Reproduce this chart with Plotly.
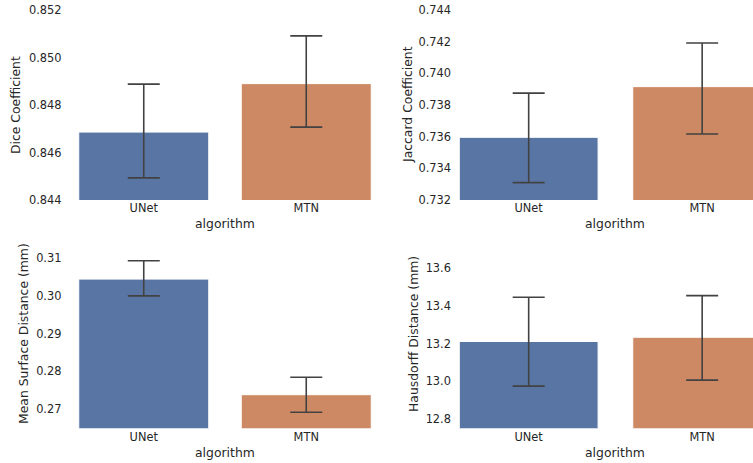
import plotly.graph_objects as go

algorithms = ["UNet", "MTN"]

dice_mean = [0.84686, 0.84890]
dice_low = [0.84493, 0.84707]
dice_high = [0.84888, 0.85091]

jaccard_mean = [0.73596, 0.73916]
jaccard_low = [0.73310, 0.73617]
jaccard_high = [0.73875, 0.74192]

msd_mean = [0.30444, 0.27386]
msd_low = [0.30000, 0.26920]
msd_high = [0.30929, 0.27847]

hd_mean = [13.2106, 13.2330]
hd_low = [12.9750, 13.0070]
hd_high = [13.4440, 13.4530]

colors = ["#5975a4", "#cc8963"]
err_color = "#424242"
text_color = "#262626"
font_family = "DejaVu Sans"
tick_size = 11.4
label_size = 12.4

W, H = 753, 463


def fx(px):
    return px / W


def fy(py):
    return 1 - py / H


panels = [
    (dice_mean, dice_low, dice_high, "Dice Coefficient", [0.844, 0.852],
     [0.844, 0.846, 0.848, 0.850, 0.852], ".3f"),
    (jaccard_mean, jaccard_low, jaccard_high, "Jaccard Coefficient", [0.732, 0.744],
     [0.732, 0.734, 0.736, 0.738, 0.740, 0.742, 0.744], ".3f"),
    (msd_mean, msd_low, msd_high, "Mean Surface Distance (mm)", [0.26497, 0.31531],
     [0.27, 0.28, 0.29, 0.30, 0.31], ".2f"),
    (hd_mean, hd_low, hd_high, "Hausdorff Distance (mm)", [12.7525, 13.757],
     [12.8, 13.0, 13.2, 13.4, 13.6], ".1f"),
]

xdoms = [[fx(62.5), fx(387.5)], [fx(452.0), 1.0], [fx(62.5), fx(387.5)], [fx(452.0), 1.0]]
xranges = [[-0.5, 1.5], [-0.442, 1.293], [-0.5, 1.5], [-0.442, 1.293]]
ydoms = [[fy(200), fy(10)], [fy(200), fy(10)],
         [fy(428.3), fy(238)], [fy(428.3), fy(238)]]
ytitle_x = [15, 407, 23, 413]
ytitle_y = [105, 105, 334, 334]
xtitle_y = [223, 223, 452, 452]

fig = go.Figure()
layout = dict(
    width=W, height=H, margin=dict(l=0, r=0, t=0, b=0, autoexpand=False),
    paper_bgcolor="white", plot_bgcolor="white",
    showlegend=False,
    font=dict(family=font_family, size=12, color=text_color),
)
annotations = []
for i, (mean, low, high, ylabel, yr, tv, tf) in enumerate(panels):
    n = i + 1
    xa = "x" if n == 1 else f"x{n}"
    ya = "y" if n == 1 else f"y{n}"
    fig.add_trace(go.Bar(
        x=algorithms, y=mean, xaxis=xa, yaxis=ya,
        width=0.8,
        marker=dict(color=colors, line=dict(color="white", width=1)),
        error_y=dict(
            type="data", symmetric=False,
            array=[h - m for h, m in zip(high, mean)],
            arrayminus=[m - l for m, l in zip(mean, low)],
            color=err_color, thickness=1.6, width=16,
        ),
    ))
    xk = "xaxis" if n == 1 else f"xaxis{n}"
    yk = "yaxis" if n == 1 else f"yaxis{n}"
    layout[xk] = dict(domain=xdoms[i], range=xranges[i], anchor=ya,
                      automargin=False,
                      showgrid=False, zeroline=False, showline=False, ticks="",
                      tickfont=dict(size=tick_size, color=text_color))
    layout[yk] = dict(domain=ydoms[i], range=yr, anchor=xa,
                      automargin=False, ticklabeloverflow="allow",
                      tickvals=tv, tickformat=tf,
                      showgrid=False, zeroline=False, showline=False, ticks="",
                      tickfont=dict(size=tick_size, color=text_color))
    annotations.append(dict(
        text=ylabel, textangle=-90, showarrow=False,
        xref="paper", yref="paper",
        x=fx(ytitle_x[i]), y=fy(ytitle_y[i]),
        xanchor="center", yanchor="middle",
        font=dict(size=label_size, color=text_color),
    ))
    annotations.append(dict(
        text="algorithm", showarrow=False,
        xref=xa, yref="paper", x=0.5, y=fy(xtitle_y[i]),
        xanchor="center", yanchor="middle",
        font=dict(size=label_size, color=text_color),
    ))

layout["annotations"] = annotations
fig.update_layout(**layout)
# remove the browser's default 8px page margin so the figure fills the window
fig.write_html(
    "out.html",
    config={"displayModeBar": False},
    post_script="document.body.style.margin='0';document.body.style.overflow='hidden';",
)
